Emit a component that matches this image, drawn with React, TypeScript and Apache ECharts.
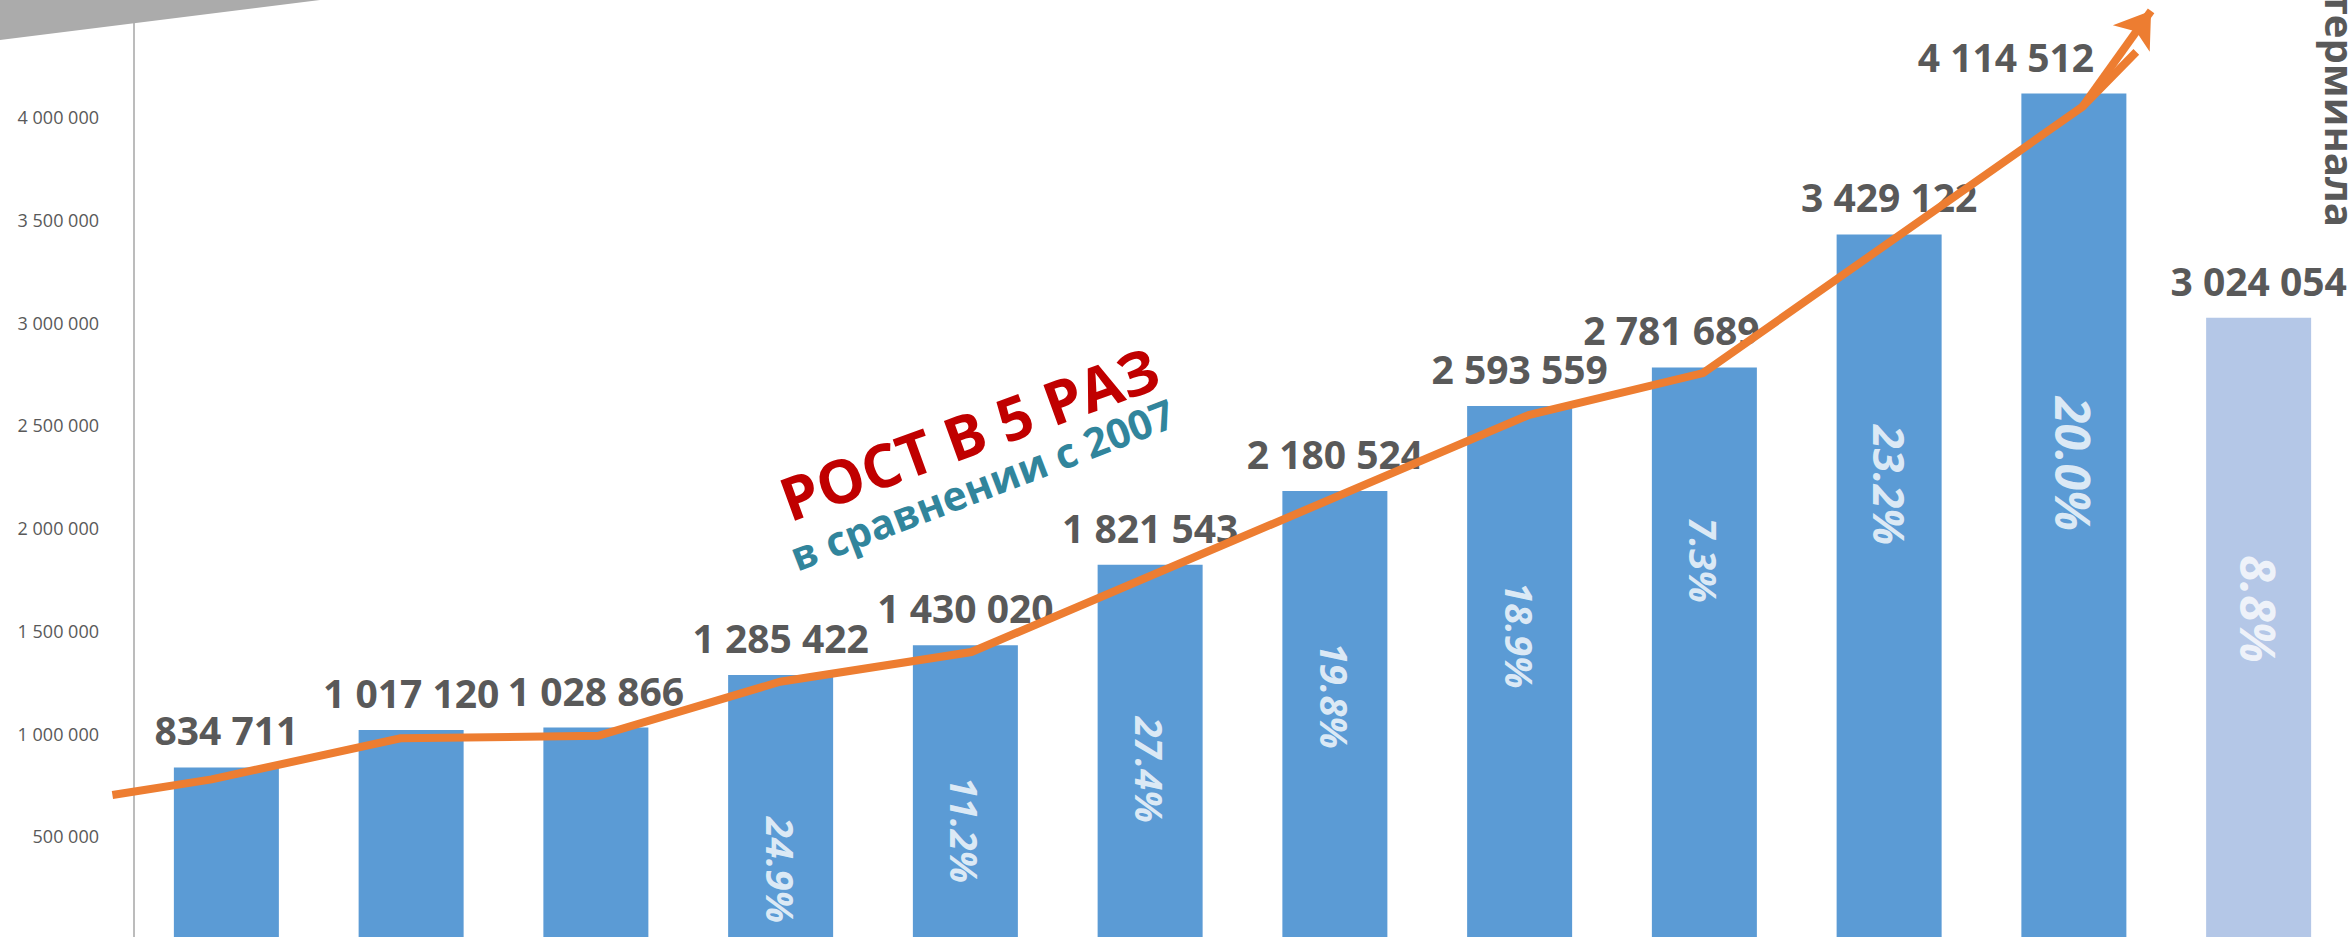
import React, { useEffect, useRef } from "react";
import * as echarts from "echarts";

// ---- data ----
const years = ["2007", "2008", "2009", "2010", "2011", "2012", "2013", "2014", "2015", "2016", "2017", "2018"];
const volumes = [834711, 1017120, 1028866, 1285422, 1430020, 1821543, 2180524, 2593559, 2781689, 3429122, 4114512, 3024054];
const growthLabels = ["", "", "", "24.9%", "11.2%", "27.4%", "19.8%", "18.9%", "7.3%", "23.2%", "20.0%", "8.8%"];
// level (in axis units) at which each growth label sits inside its bar
const growthLevel = [0, 0, 0, 335800, 530400, 823800, 1183500, 1477900, 1844300, 2209200, 2311400, 1605800];
// trend arrow (x in category index units, y in axis units)
const arrowX = [-0.616, -0.079, 0.943, 2.014, 2.998, 4.033, 7.049, 7.993, 10.046];
const arrowY = [700700, 777100, 976600, 989300, 1252100, 1396600, 2549900, 2754300, 4050100];
const arrowTip = [10.418, 4517300];
const yTicks = { min: 0, max: 4570000, interval: 500000 };

const fmt = (v: number) => String(Math.round(v)).replace(/\B(?=(\d{3})+(?!\d))/g, " ");

// style tweaks
const valueLabelShift: Record<number, number> = { 8: -33, 10: -68 };
const growthFontSize: Record<number, number> = { 9: 43, 10: 48, 11: 48 };

export default function App() {
  const ref = useRef<HTMLDivElement>(null);
  useEffect(() => {
    const chart = echarts.init(ref.current!, null, { renderer: "svg" });
    const FONT = '"Open Sans", sans-serif';
    const BAND = 2221 / 12;
    const option: any = {
      animation: false,
      backgroundColor: "#ffffff",
      grid: [
        { left: 134, top: 0, width: 2221, height: 939 },
        { left: 134 - BAND / 2, top: 0, width: 2221 + BAND / 2, height: 939 },
      ],
      xAxis: [
        {
          type: "category",
          gridIndex: 0,
          data: years,
          axisLine: { show: false },
          axisTick: { show: false },
          axisLabel: { show: false },
        },
        { type: "value", gridIndex: 1, min: -1, max: 11.5, show: false },
      ],
      yAxis: [
        {
          type: "value",
          gridIndex: 0,
          min: yTicks.min,
          max: yTicks.max,
          interval: yTicks.interval,
          splitLine: { show: false },
          axisTick: { show: false },
          axisLine: { show: true, onZero: false, lineStyle: { color: "#A6A6A6", width: 1.5 } },
          axisLabel: {
            showMaxLabel: false,
            showMinLabel: false,
            margin: 35,
            color: "#595959",
            fontSize: 18,
            fontFamily: FONT,
            formatter: (v: number) => fmt(v),
          },
        },
        { type: "value", gridIndex: 1, min: yTicks.min, max: yTicks.max, show: false },
      ],
      series: [
        {
          type: "bar",
          barWidth: 105,
          data: volumes.map((v, i) => ({
            value: v,
            itemStyle: { color: i === volumes.length - 1 ? "#B4C7E7" : "#5B9BD5" },
            label: { offset: [valueLabelShift[i] || 0, 0] },
          })),
          label: {
            show: true,
            position: "top",
            distance: 18,
            color: "#595959",
            fontSize: 39,
            fontWeight: "bold",
            fontFamily: FONT,
            formatter: (p: any) => fmt(p.value),
          },
          z: 2,
        },
        {
          type: "scatter",
          symbolSize: 1,
          itemStyle: { color: "rgba(0,0,0,0)" },
          data: growthLevel
            .map((lv, i) => ({
              value: [i, lv],
              label: { fontSize: growthFontSize[i] || 38 },
              name: growthLabels[i],
            }))
            .filter((d) => d.name !== ""),
          label: {
            show: true,
            position: "inside",
            rotate: -90,
            color: "#ffffff",
            fontWeight: "bold",
            fontStyle: "italic",
            fontFamily: FONT,
            formatter: (p: any) => p.name,
          },
          z: 3,
        },
        {
          type: "line",
          xAxisIndex: 1,
          yAxisIndex: 1,
          clip: false,
          symbol: "none",
          data: [...arrowX.map((x, i) => [x, arrowY[i]]), [arrowTip[0] - 0.08, arrowTip[1] - 200000]],
          lineStyle: { color: "#ED7D31", width: 8, join: "miter", cap: "butt" },
          markLine: {
            silent: true,
            symbol: ["none", "arrow"],
            symbolSize: [34, 34],
            label: { show: false },
            lineStyle: { color: "#ED7D31", width: 8, type: "solid" },
            data: [
              [
                { coord: [arrowX[arrowX.length - 1], arrowY[arrowY.length - 1]] },
                { coord: arrowTip },
              ],
            ],
          },
          z: 4,
        },
      ],
      graphic: [
        {
          type: "polygon",
          z: 100,
          shape: { points: [[0, 0], [320, 0], [0, 40]] },
          style: { fill: "#ABABAB" },
        },
        {
          type: "text",
          x: 969,
          y: 433,
          rotation: (20 * Math.PI) / 180,
          z: 100,
          style: {
            text: "РОСТ В 5 РАЗ",
            fill: "#C00000",
            fontSize: 60,
            fontWeight: "bold",
            fontFamily: FONT,
            align: "center",
            verticalAlign: "middle",
            textAlign: "center",
            textVerticalAlign: "middle",
          },
        },
        {
          type: "text",
          x: 982,
          y: 484,
          rotation: (21 * Math.PI) / 180,
          z: 100,
          style: {
            text: "в сравнении с 2007",
            fill: "#31859C",
            fontSize: 41,
            fontWeight: "bold",
            fontFamily: FONT,
            align: "center",
            verticalAlign: "middle",
            textAlign: "center",
            textVerticalAlign: "middle",
          },
        },
        {
          type: "text",
          x: 2340,
          y: 227,
          rotation: -Math.PI / 2,
          z: 100,
          style: {
            text: "терминала",
            fill: "#595959",
            fontSize: 40,
            fontWeight: "bold",
            fontFamily: FONT,
            align: "right",
            verticalAlign: "middle",
            textAlign: "right",
            textVerticalAlign: "middle",
          },
        },
      ],
    };
    chart.setOption(option);
    return () => chart.dispose();
  }, []);
  return (
    <div
      ref={ref}
      style={{ position: "fixed", left: 0, top: 0, width: 2351, height: 960, background: "#fff" }}
    />
  );
}
